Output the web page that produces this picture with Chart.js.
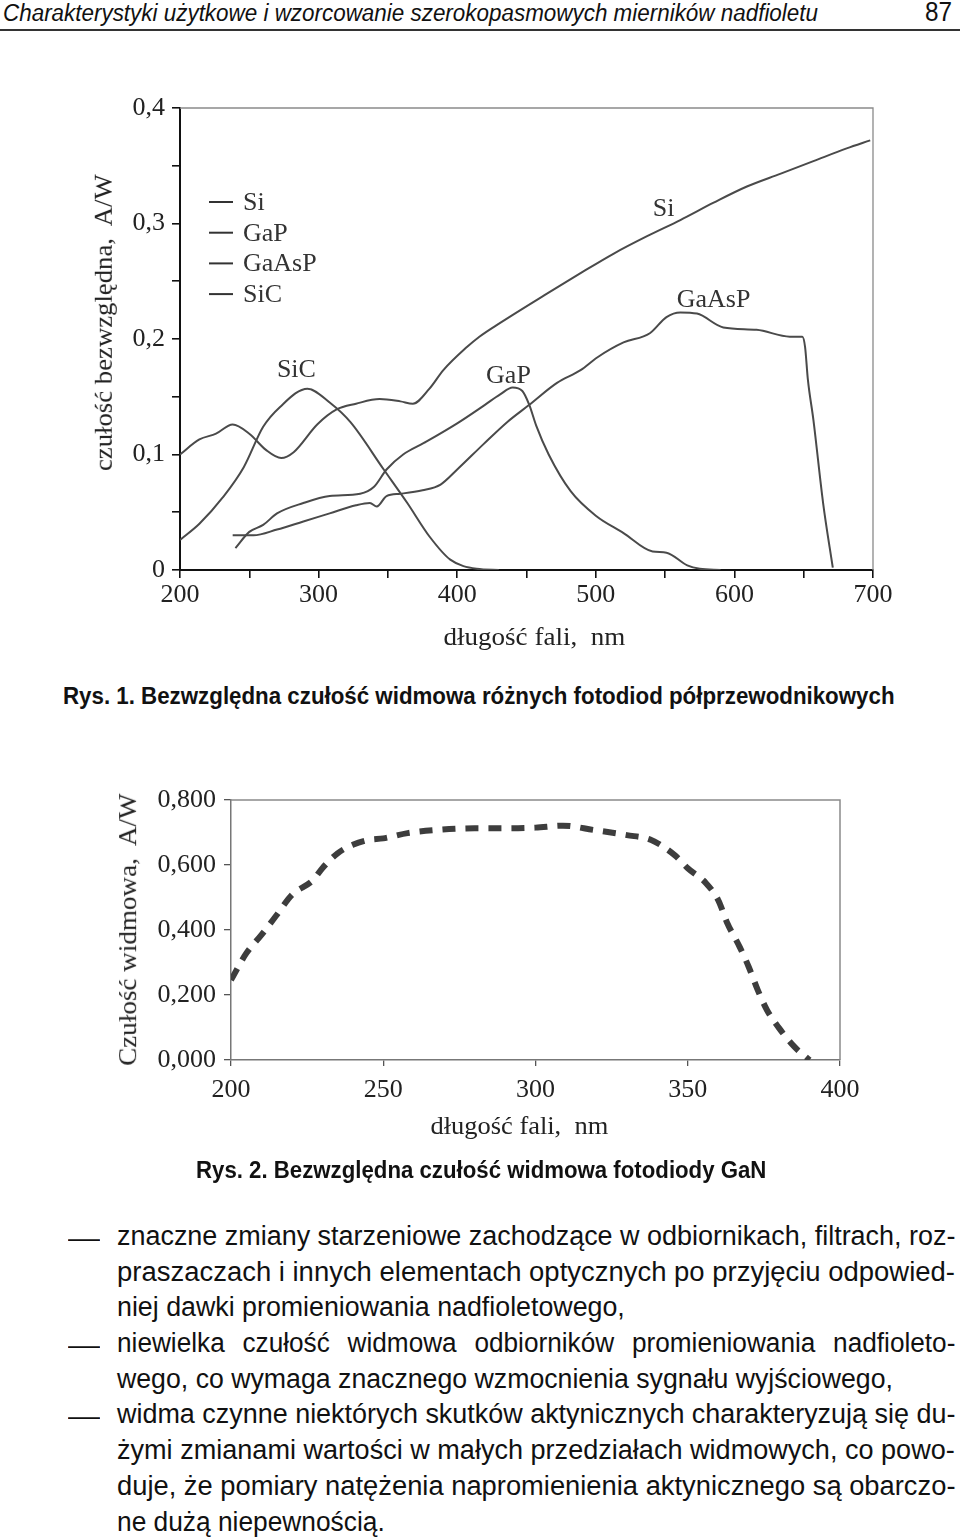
<!DOCTYPE html>
<html lang="pl">
<head>
<meta charset="utf-8">
<title>Rys. 1, Rys. 2</title>
<script src="https://cdn.jsdelivr.net/npm/chart.js@4.4.1/dist/chart.umd.min.js"></script>
<style>
  html, body { margin: 0; padding: 0; background: #fff; }
  body { width: 960px; height: 1539px; position: relative; overflow: hidden;
         font-family: 'Liberation Sans', Arial, sans-serif; color: #111; }
  .t { position: absolute; white-space: nowrap; line-height: 1.2; }
  .serif { font-family: 'Liberation Serif', 'Times New Roman', serif; font-size: 26px; color: #222; }
  .body { font-size: 27px; }
  .cap { font-size: 23px; font-weight: bold; }
  canvas { position: absolute; left: 0; }
  #rule { position: absolute; left: 0; top: 29px; width: 960px; height: 2px; background: #333; }
</style>
</head>
<body>

<div class="t" style="font-size:23px;font-style:italic" data-x="3" data-cy="14" data-w="815">Charakterystyki użytkowe i wzorcowanie szerokopasmowych mierników nadfioletu</div>
<div class="t" style="font-size:27px" data-x="925" data-cy="12" data-w="27">87</div>
<div id="rule"></div>

<canvas id="rys1" width="960" height="600" style="top:80px"></canvas>
<div class="t serif" data-cx="103" data-cy="322" data-w="297" data-rot="-90">czułość bezwzględna,&nbsp; A/W</div>
<div class="t serif" data-cx="534" data-cy="636" data-w="182">długość fali,&nbsp; nm</div>
<div class="t cap" data-x="63" data-cy="697" data-w="832">Rys. 1. Bezwzględna czułość widmowa różnych fotodiod półprzewodnikowych</div>

<canvas id="rys2" width="960" height="400" style="top:760px"></canvas>
<div class="t serif" data-cx="127" data-cy="929" data-w="272" data-rot="-90">Czułość widmowa,&nbsp; A/W</div>
<div class="t serif" data-cx="519" data-cy="1125" data-w="178">długość fali,&nbsp; nm</div>
<div class="t cap" data-x="196" data-cy="1171" data-w="570">Rys. 2. Bezwzględna czułość widmowa fotodiody GaN</div>

<!-- data-j: największe dopuszczalne rozciągnięcie liter przy justowaniu -->
<div class="t body" data-x="68" data-cy="1238" data-w="32">—</div>
<div class="t body" data-x="117" data-cy="1236" data-w="838" data-j="1.08">znaczne zmiany starzeniowe zachodzące w odbiornikach, filtrach, roz-</div>
<div class="t body" data-x="117" data-cy="1272" data-w="838" data-j="1.08">praszaczach i innych elementach optycznych po przyjęciu odpowied-</div>
<div class="t body" data-x="117" data-cy="1307" data-w="508">niej dawki promieniowania nadfioletowego,</div>
<div class="t body" data-x="68" data-cy="1345" data-w="32">—</div>
<div class="t body" data-x="117" data-cy="1343" data-w="838" data-j="0.97">niewielka czułość widmowa odbiorników promieniowania nadfioleto-</div>
<div class="t body" data-x="117" data-cy="1379" data-w="776">wego, co wymaga znacznego wzmocnienia sygnału wyjściowego,</div>
<div class="t body" data-x="68" data-cy="1416" data-w="32">—</div>
<div class="t body" data-x="117" data-cy="1414" data-w="838" data-j="1.08">widma czynne niektórych skutków aktynicznych charakteryzują się du-</div>
<div class="t body" data-x="117" data-cy="1450" data-w="838" data-j="1.08">żymi zmianami wartości w małych przedziałach widmowych, co powo-</div>
<div class="t body" data-x="117" data-cy="1486" data-w="838" data-j="1.08">duje, że pomiary natężenia napromienienia aktynicznego są obarczo-</div>
<div class="t body" data-x="117" data-cy="1522" data-w="268">ne dużą niepewnością.</div>

<script>
// Rys. 1 – czułość bezwzględna [A/W] w funkcji długości fali [nm]
const siNm = [200, 214, 226, 238, 250, 262, 273, 282, 299, 313, 327, 344, 359, 368, 380, 390, 407, 416, 431, 463, 489, 513, 537, 561, 585, 609, 633, 657, 681, 698];
const siAW = [0.100, 0.113, 0.118, 0.126, 0.118, 0.104, 0.097, 0.102, 0.126, 0.139, 0.144, 0.148, 0.146, 0.144, 0.157, 0.173, 0.193, 0.202, 0.214, 0.238, 0.257, 0.274, 0.289, 0.303, 0.318, 0.332, 0.343, 0.354, 0.365, 0.372];

const gapNm = [240, 250, 260, 270, 289, 308, 330, 340, 349, 361, 376, 400, 420, 431, 440, 447, 452, 457, 466, 482, 500, 520, 541, 551, 566, 575, 590];
const gapAW = [0.019, 0.033, 0.039, 0.049, 0.058, 0.064, 0.066, 0.072, 0.087, 0.100, 0.110, 0.127, 0.143, 0.152, 0.158, 0.155, 0.143, 0.125, 0.100, 0.068, 0.047, 0.032, 0.016, 0.015, 0.004, 0.001, 0.000];

const gaaspNm = [238, 253, 270, 289, 308, 327, 337, 342, 349, 359, 375, 388, 400, 419, 436, 452, 472, 489, 501, 520, 539, 551, 561, 573, 592, 616, 640, 649, 651, 653, 657, 664, 671];
const gaaspAW = [0.030, 0.030, 0.035, 0.042, 0.049, 0.056, 0.058, 0.055, 0.064, 0.066, 0.069, 0.074, 0.087, 0.109, 0.128, 0.143, 0.162, 0.173, 0.184, 0.197, 0.205, 0.219, 0.223, 0.222, 0.210, 0.208, 0.202, 0.202, 0.193, 0.165, 0.130, 0.058, 0.002];

const sicNm = [200, 214, 231, 246, 260, 272, 292, 308, 323, 347, 364, 380, 395, 414, 430];
const sicAW = [0.026, 0.040, 0.063, 0.089, 0.124, 0.141, 0.157, 0.145, 0.128, 0.087, 0.058, 0.029, 0.009, 0.001, 0.000];

const legendNames = ['Si', 'GaP', 'GaAsP', 'SiC'];
// podpisy krzywych w jednostkach osi
const curveLabels = [
    { text: 'SiC', nm: 284, aw: 0.173 },
    { text: 'GaP', nm: 437, aw: 0.168 },
    { text: 'Si', nm: 549, aw: 0.312 },
    { text: 'GaAsP', nm: 585, aw: 0.234 }
];

// Rys. 2 – fotodioda GaN
const ganNm = [200, 205, 210, 215, 220, 227, 230, 235, 240, 245, 250, 258, 268, 280, 290, 300, 309, 319, 330, 338, 346, 350, 356, 360, 363, 367, 370, 373, 376, 380, 385, 390];
const ganAW = [0.246, 0.328, 0.385, 0.446, 0.508, 0.554, 0.590, 0.636, 0.662, 0.677, 0.682, 0.698, 0.708, 0.713, 0.713, 0.715, 0.721, 0.708, 0.692, 0.677, 0.628, 0.590, 0.544, 0.492, 0.421, 0.349, 0.287, 0.215, 0.154, 0.098, 0.041, 0.000];

const INK = '#4a4a4a';
const SERIF = "'Liberation Serif', 'Times New Roman', serif";
Chart.defaults.font.family = SERIF;
Chart.defaults.color = '#222';

const pts = (xs, ys) => xs.map((x, i) => ({ x: x, y: ys[i] }));
const comma = (v, d) => v.toFixed(d).replace('.', ',');

// cienka ramka (góra i prawa strona pola wykresu)
const frame = {
    id: 'frame',
    beforeDatasetsDraw(chart, args, opts) {
        const { ctx, chartArea: a } = chart;
        ctx.save();
        ctx.strokeStyle = opts.color;
        ctx.lineWidth = opts.width;
        ctx.beginPath();
        ctx.moveTo(a.left, a.top);
        ctx.lineTo(a.right, a.top);
        ctx.lineTo(a.right, a.bottom);
        ctx.stroke();
        ctx.restore();
    }
};

// legenda i podpisy krzywych na rys. 1
const notes = {
    id: 'notes',
    afterDatasetsDraw(chart) {
        const { ctx, chartArea: a, scales } = chart;
        ctx.save();
        ctx.font = '26px ' + SERIF;
        ctx.fillStyle = '#333';
        ctx.strokeStyle = '#333';
        ctx.lineWidth = 2;
        ctx.textBaseline = 'middle';
        legendNames.forEach((name, i) => {
            const ly = a.top + 94 + i * 30.7;
            ctx.beginPath();
            ctx.moveTo(a.left + 29, ly);
            ctx.lineTo(a.left + 53, ly);
            ctx.stroke();
            ctx.textAlign = 'left';
            ctx.fillText(name, a.left + 63, ly + 1);
        });
        ctx.textAlign = 'center';
        curveLabels.forEach(l => {
            ctx.fillText(l.text, scales.x.getPixelForValue(l.nm), scales.y.getPixelForValue(l.aw));
        });
        ctx.restore();
    }
};

const line = (label, xs, ys) => ({
    label: label,
    data: pts(xs, ys),
    borderColor: INK,
    borderWidth: 2,
    pointRadius: 0,
    fill: false,
    cubicInterpolationMode: 'monotone'
});

new Chart(document.getElementById('rys1'), {
    type: 'line',
    data: {
        datasets: [
            line('Si', siNm, siAW),
            line('GaP', gapNm, gapAW),
            line('GaAsP', gaaspNm, gaaspAW),
            line('SiC', sicNm, sicAW)
        ]
    },
    options: {
        responsive: false,
        animation: false,
        events: [],
        layout: { padding: { left: 0, top: 28, right: 87, bottom: 0 } },
        plugins: {
            legend: { display: false },
            tooltip: { enabled: false },
            frame: { color: '#8a8a8a', width: 1.3 }
        },
        scales: {
            x: {
                type: 'linear', min: 200, max: 700,
                afterFit: s => { s.height = 110; },
                border: { color: '#111', width: 2 },
                grid: { drawOnChartArea: false, tickLength: 8, color: '#111', lineWidth: 1.6 },
                ticks: {
                    stepSize: 50, autoSkip: false, maxRotation: 0, padding: 2,
                    font: { size: 26 },
                    callback: v => v % 100 === 0 ? String(v) : ''
                }
            },
            y: {
                min: 0, max: 0.4,
                afterFit: s => { s.width = 180; },
                border: { color: '#111', width: 2 },
                grid: { drawOnChartArea: false, tickLength: 8, color: '#111', lineWidth: 1.6 },
                ticks: {
                    stepSize: 0.05, autoSkip: false, padding: 7,
                    font: { size: 26 },
                    callback: v => {
                        if (Math.abs(v * 10 - Math.round(v * 10)) > 1e-6) return '';
                        return v === 0 ? '0' : comma(v, 1);
                    }
                }
            }
        }
    },
    plugins: [frame, notes]
});

new Chart(document.getElementById('rys2'), {
    type: 'line',
    data: {
        datasets: [{
            label: 'GaN',
            data: pts(ganNm, ganAW),
            borderColor: '#3d3d3d',
            borderWidth: 6,
            borderDash: [13, 10],
            borderCapStyle: 'butt',
            pointRadius: 0,
            fill: false,
            cubicInterpolationMode: 'monotone'
        }]
    },
    options: {
        responsive: false,
        animation: false,
        events: [],
        layout: { padding: { left: 0, top: 40, right: 120, bottom: 0 } },
        plugins: {
            legend: { display: false },
            tooltip: { enabled: false },
            frame: { color: '#8a8a8a', width: 1.5 }
        },
        scales: {
            x: {
                type: 'linear', min: 200, max: 400,
                afterFit: s => { s.height = 100; },
                border: { color: '#777', width: 1.5 },
                grid: { drawOnChartArea: false, tickLength: 6, color: '#555', lineWidth: 1.3 },
                ticks: { stepSize: 50, autoSkip: false, maxRotation: 0, padding: 9, font: { size: 26 } }
            },
            y: {
                min: 0, max: 0.8,
                afterFit: s => { s.width = 231; },
                border: { color: '#777', width: 1.5 },
                grid: { drawOnChartArea: false, tickLength: 7, color: '#555', lineWidth: 1.3 },
                ticks: {
                    stepSize: 0.2, autoSkip: false, padding: 8,
                    font: { size: 26 },
                    callback: v => comma(v, 3)
                }
            }
        }
    },
    plugins: [frame]
});

// rozmieszczenie tekstów: dopasowanie szerokości do oryginału
function fit(el) {
    const w = +el.dataset.w, cy = +el.dataset.cy;
    const nat = el.offsetWidth, h = el.offsetHeight;
    el.style.top = (cy - h / 2) + 'px';
    if (el.dataset.cx) {
        el.style.left = (+el.dataset.cx - nat / 2) + 'px';
        el.style.transform = 'rotate(' + (el.dataset.rot || 0) + 'deg) scaleX(' + (w / nat) + ')';
        return;
    }
    el.style.left = el.dataset.x + 'px';
    el.style.transformOrigin = '0 50%';
    const gaps = (el.textContent.match(/ /g) || []).length;
    let s = w / nat;
    if (el.dataset.j && gaps) {
        s = Math.min(s, +el.dataset.j);
        el.style.wordSpacing = ((w / s - nat) / gaps) + 'px';
    }
    el.style.transform = 'scaleX(' + s + ')';
}
document.querySelectorAll('.t').forEach(fit);
</script>
</body>
</html>
